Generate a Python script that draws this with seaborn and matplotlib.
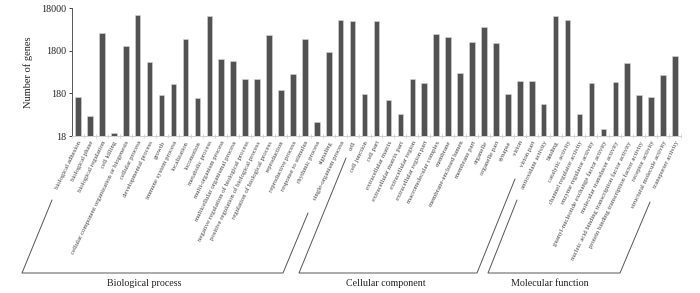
import numpy as np
import pandas as pd
import matplotlib
matplotlib.use("Agg")
import matplotlib.pyplot as plt
from matplotlib.lines import Line2D
from matplotlib.ticker import FixedLocator, NullLocator, FixedFormatter
import seaborn as sns

bp_terms = ["biological adhesion", "biological phase", "biological regulation", "cell killing",
            "cellular component organization or biogenesis", "cellular process", "developmental process",
            "growth", "immune system process", "localization", "locomotion", "metabolic process",
            "multi-organism process", "multicellular organismal process",
            "negative regulation of biological process", "positive regulation of biological process",
            "regulation of biological process", "reproduction", "reproductive process",
            "response to stimulus", "rhythmic process", "signaling", "single-organism process"]
bp_values = [148, 53, 4585, 21, 2270, 12100, 994, 167, 303, 3440, 142, 11480, 1148, 1050,
             383, 380, 4190, 220, 520, 3440, 39, 1707, 9250]

cc_terms = ["cell", "cell junction", "cell part", "extracellular matrix", "extracellular matrix part",
            "extracellular region", "extracellular region part", "macromolecular complex", "membrane",
            "membrane-enclosed lumen", "membrane part", "organelle", "organelle part", "synapse",
            "virion", "virion part"]
cc_values = [8770, 177, 8770, 128, 60, 397, 320, 4430, 3700, 549, 2930, 6340, 2770, 174, 357, 357]

mf_terms = ["antioxidant activity", "binding", "catalytic activity", "channel regulator activity",
            "enzyme regulator activity", "guanyl-nucleotide exchange factor activity",
            "molecular transducer activity", "nucleic acid binding transcription factor activity",
            "protein binding transcription factor activity", "receptor activity",
            "structural molecule activity", "transporter activity"]
mf_values = [103, 11900, 9600, 59, 320, 26.7, 338, 909, 162, 150, 485, 1325]

group_names = ["Biological process", "Cellular component", "Molecular function"]
y_ticks = [18, 180, 1800, 18000]

terms = bp_terms + cc_terms + mf_terms
values = bp_values + cc_values + mf_values
df = pd.DataFrame({"term": terms, "genes": values})

sns.set_theme(style="white")
plt.rcParams["font.family"] = ["Liberation Serif", "DejaVu Serif"]

W, H = 700, 293
fig = plt.figure(figsize=(W / 100, H / 100), dpi=100)
ax = fig.add_axes([72 / W, 1 - 136 / H, (681 - 72) / W, (136 - 8) / H])
ax.set_yscale("log")
sns.barplot(data=df, x="term", y="genes", ax=ax, color="#525252", width=0.47,
            saturation=1, edgecolor="#d8d8d8", linewidth=0.4)
ax.set_ylim(18, 18000)
ax.set_xlim(-0.4, len(terms) - 0.5)

ax.yaxis.set_major_locator(FixedLocator(y_ticks))
ax.yaxis.set_major_formatter(FixedFormatter([str(t) for t in y_ticks]))
ax.yaxis.set_minor_locator(NullLocator())
ax.tick_params(axis="y", which="major", direction="out", length=2, width=0.6,
               labelsize=7.2, colors="#222222", pad=2, left=True)
ax.set_ylabel("Number of genes", fontsize=7.5, color="#222222", labelpad=6)
ax.set_xlabel("")

ax.set_xticks(range(len(terms)))
ax.set_xticklabels(terms, rotation=64, ha="right", rotation_mode="anchor",
                   fontsize=4.9, color="#444444")
ax.tick_params(axis="x", which="major", length=0, pad=3)
ax.set_xticks(np.arange(len(terms) + 1) - 0.5, minor=True)
ax.tick_params(axis="x", which="minor", direction="inout", length=3, width=0.5,
               color="#c8c8c8", bottom=True)

for s in ["top", "right"]:
    ax.spines[s].set_visible(False)
ax.spines["left"].set_color("#555555")
ax.spines["left"].set_linewidth(0.7)
ax.spines["bottom"].set_color("#cfcfcf")
ax.spines["bottom"].set_linewidth(0.7)

def px(x, y):
    return x / W, 1 - y / H

brackets = [
    [(52, 200), (22, 273), (283, 273), (308, 213)],
    [(346, 158), (299, 273), (477, 273), (515, 179)],
    [(517, 200), (488, 273), (620, 273), (650, 202)],
]
label_pos = [(144, 284), (386, 284), (550, 284)]
for pts, name, (lx, ly) in zip(brackets, group_names, label_pos):
    xs = [px(x, y)[0] for x, y in pts]
    ys = [px(x, y)[1] for x, y in pts]
    fig.add_artist(Line2D(xs, ys, transform=fig.transFigure, color="#555555", lw=0.7))
    fx, fy = px(lx, ly)
    fig.text(fx, fy, name, ha="center", va="center", fontsize=7.2, color="#222222")

fig.savefig("out.png", dpi=100)
